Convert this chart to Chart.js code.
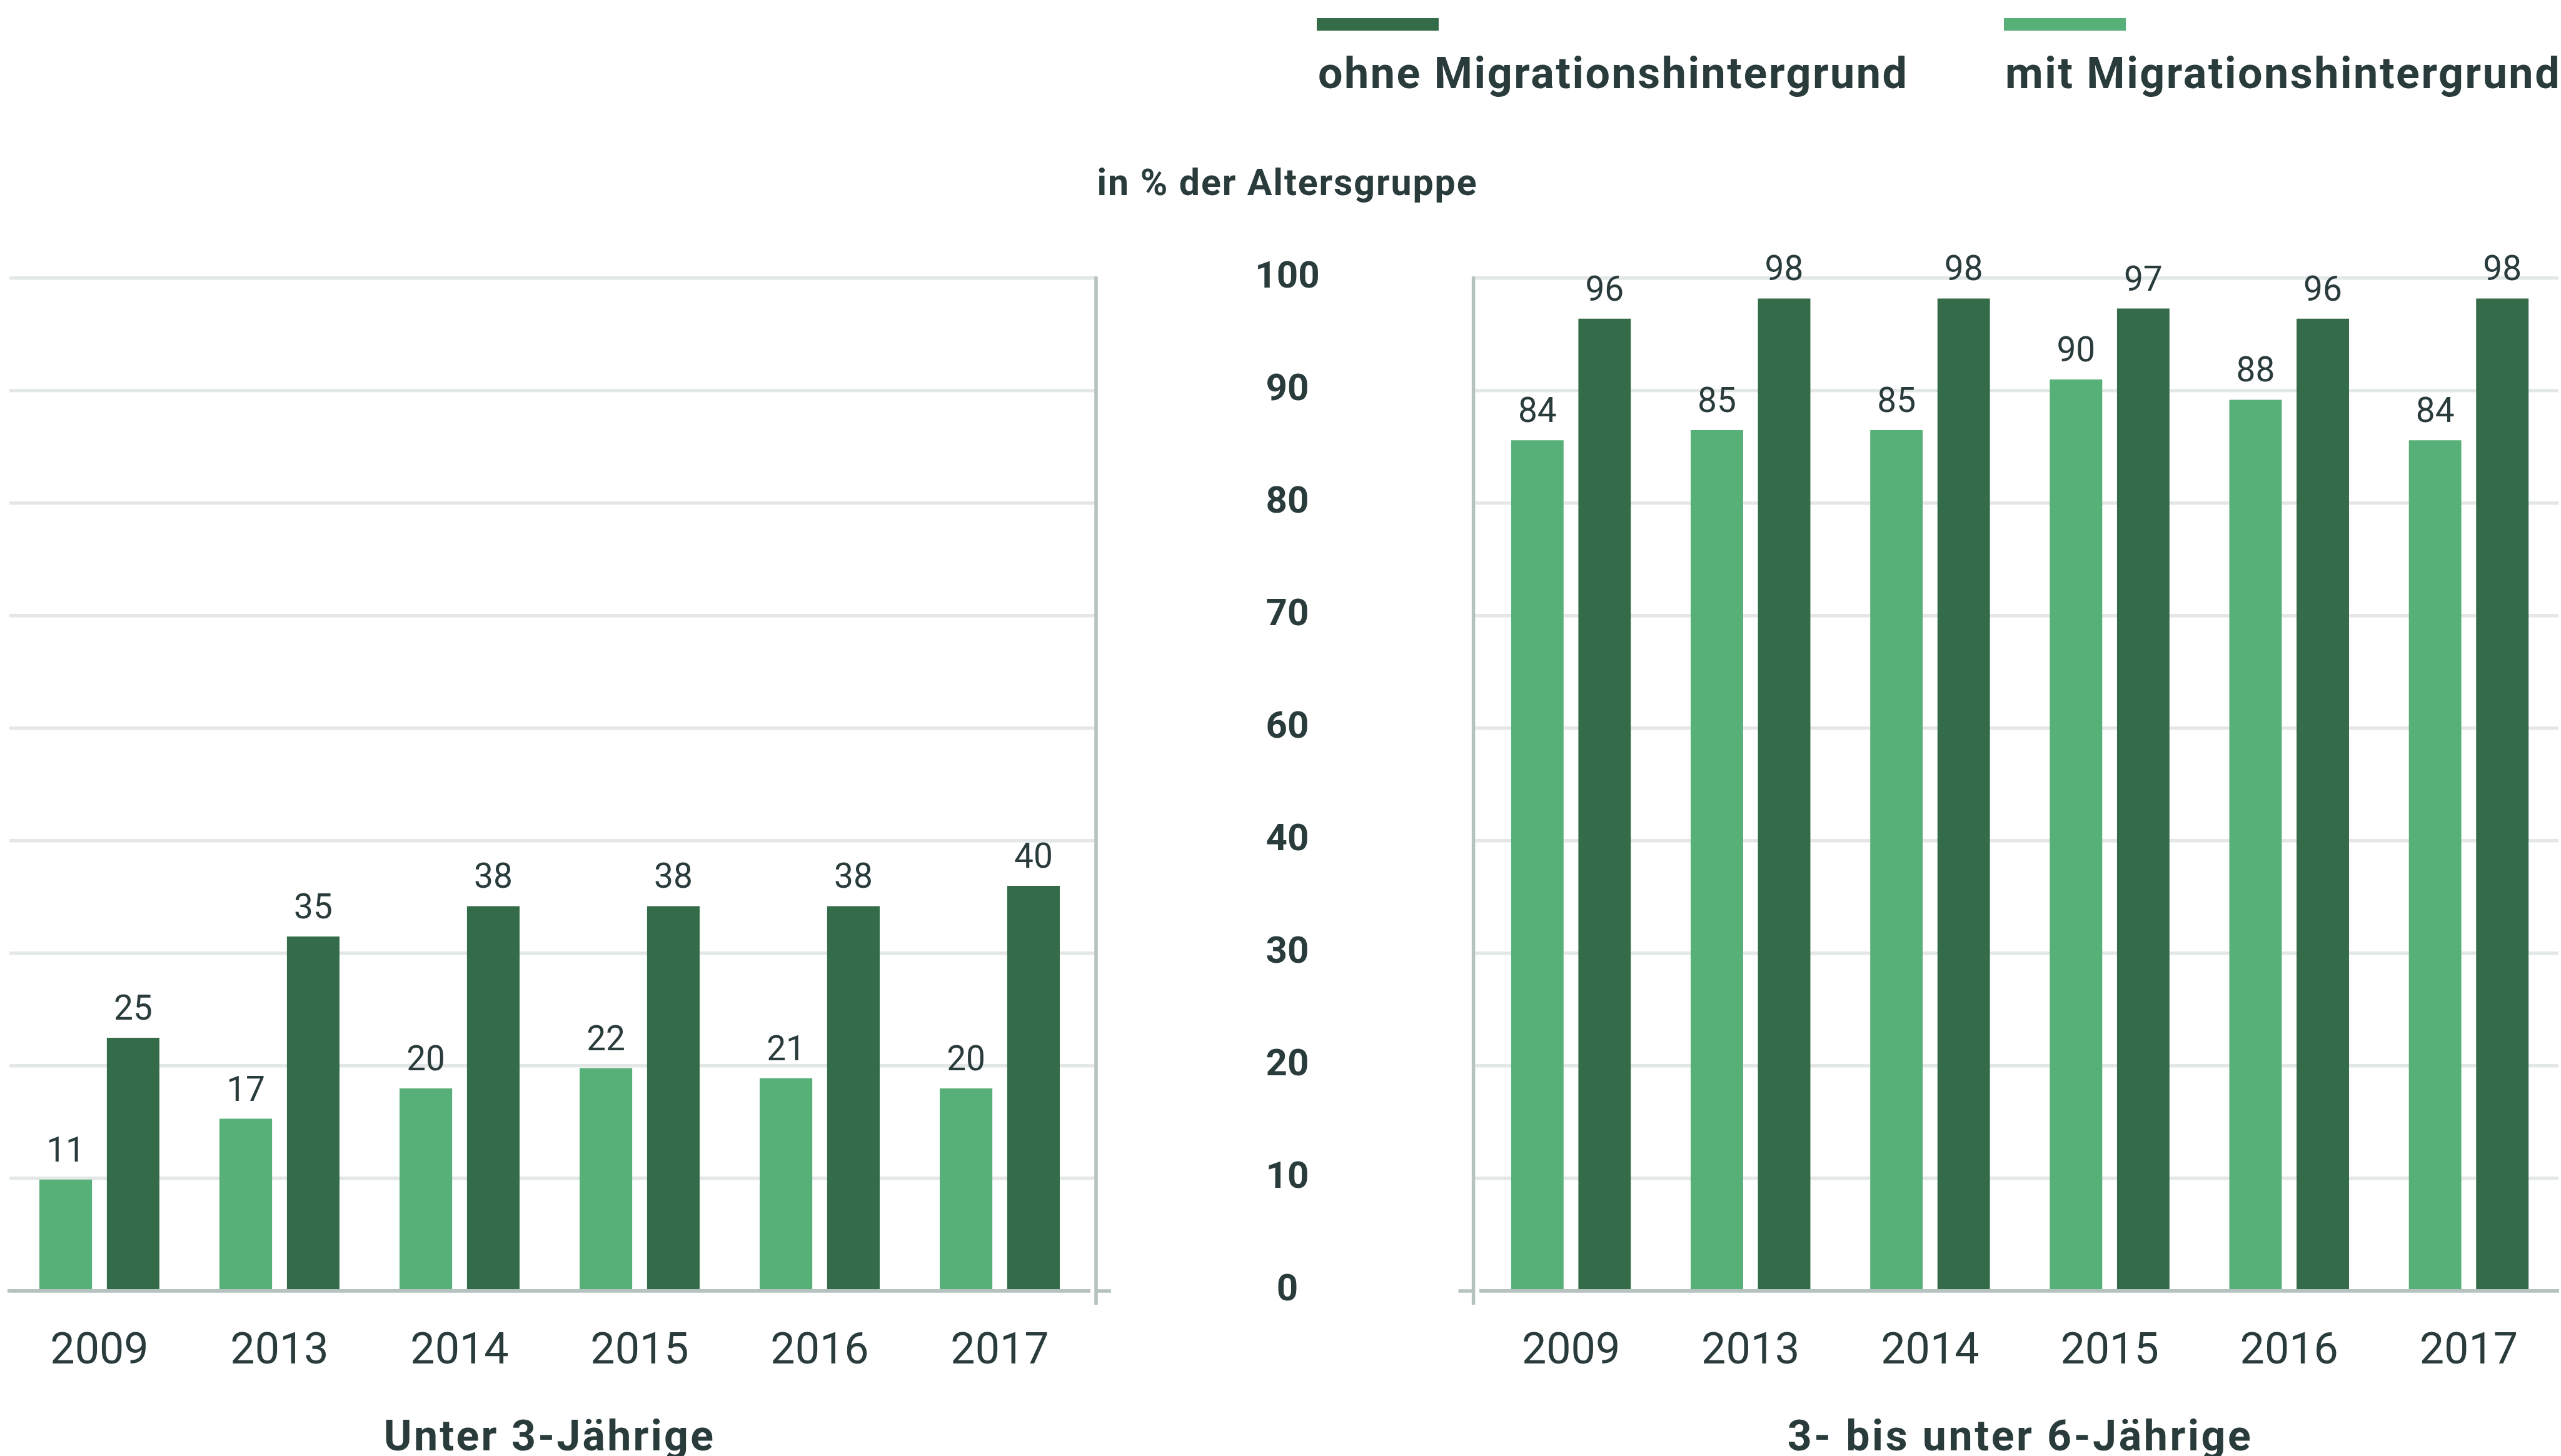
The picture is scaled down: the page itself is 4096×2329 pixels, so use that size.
<!DOCTYPE html>
<html lang="de">
<head>
<meta charset="utf-8">
<title>Betreuungsquoten nach Migrationshintergrund</title>
<script src="https://cdn.jsdelivr.net/npm/chart.js@4.4.1/dist/chart.umd.min.js"></script>
<style>
  html, body { margin: 0; padding: 0; background: #fff; }
  body { position: relative; width: 4096px; height: 2329px; overflow: hidden; font-family: Roboto, sans-serif; color: #293b3a; }
  canvas { position: absolute; top: 0; }
  .txt { position: absolute; white-space: nowrap; line-height: 1; font-weight: 700; }
  .swatch { position: absolute; top: 29px; width: 195px; height: 20px; }
</style>
</head>
<body>
<canvas id="chartLeft" width="1800" height="2329" style="left:0"></canvas>
<canvas id="chartRight" width="2196" height="2329" style="left:1900px"></canvas>
<div id="legend"></div>
<div class="txt" id="unitLabel"></div>
<div class="txt" id="titleLeft"></div>
<div class="txt" id="titleRight"></div>
<script>
// data
const years = ['2009', '2013', '2014', '2015', '2016', '2017'];
const seriesNames = ['mit Migrationshintergrund', 'ohne Migrationshintergrund'];
const seriesColors = ['#57b078', '#346b48'];
const under3With = [11, 17, 20, 22, 21, 20];
const under3Without = [25, 35, 38, 38, 38, 40];
const age3to6With = [84, 85, 85, 90, 88, 84];
const age3to6Without = [96, 98, 98, 97, 96, 98];
const yTickLabels = [0, 10, 20, 30, 40, 60, 70, 80, 90, 100];
const groupTitles = ['Unter 3-Jährige', '3- bis unter 6-Jährige'];
const unitText = 'in % der Altersgruppe';

const TEXT = '#293b3a';
const GRID = '#e3e8e7';
const AXIS = '#b5c2c0';
const LINE = 5.5;
const H = 2329;
const AREA_TOP = 445;
const AREA_BOTTOM = 2065;

// value labels above each bar
const valueLabels = {
    id: 'valueLabels',
    afterDatasetsDraw(chart) {
        const ctx = chart.ctx;
        ctx.save();
        ctx.font = '400 55px Roboto';
        ctx.fillStyle = TEXT;
        ctx.textAlign = 'center';
        ctx.textBaseline = 'alphabetic';
        chart.data.datasets.forEach((ds, i) => {
            chart.getDatasetMeta(i).data.forEach((bar, j) => {
                ctx.fillText(String(ds.data[j]), bar.x, bar.y - 29);
            });
        });
        ctx.restore();
    }
};

// vertical frame line beside the plot, with the little corner at the bottom
const axisFrame = {
    id: 'axisFrame',
    afterDraw(chart, args, opts) {
        const { ctx, chartArea } = chart;
        const dir = opts.side === 'right' ? 1 : -1;
        const x = (opts.side === 'right' ? chartArea.right : chartArea.left) + dir * opts.gap;
        ctx.save();
        ctx.strokeStyle = AXIS;
        ctx.lineWidth = LINE;
        ctx.beginPath();
        ctx.moveTo(x, chartArea.top - LINE / 2);
        ctx.lineTo(x, chartArea.bottom + 22);
        ctx.moveTo(x, chartArea.bottom);
        ctx.lineTo(x + dir * 24, chartArea.bottom);
        ctx.stroke();
        ctx.restore();
    }
};

function yTicks(scale) {
    scale.ticks = yTickLabels.map((_, i) => ({ value: i * 100 / (yTickLabels.length - 1) }));
}

function makeChart(canvasId, withData, withoutData, side) {
    const isLeftAxis = side === 'left';
    const measure = document.createElement('canvas').getContext('2d');
    measure.font = 'normal bold 60px Roboto';
    const widest = Math.max(...yTickLabels.map(t => measure.measureText(String(t)).width));
    const axisWidth = isLeftAxis ? 469 : 57;
    const tickLen = isLeftAxis ? 12 : 10;

    return new Chart(document.getElementById(canvasId), {
        type: 'bar',
        data: {
            labels: years,
            datasets: [
                { label: seriesNames[0], data: withData, backgroundColor: seriesColors[0] },
                { label: seriesNames[1], data: withoutData, backgroundColor: seriesColors[1] }
            ]
        },
        options: {
            responsive: false,
            animation: false,
            categoryPercentage: 0.749,
            barPercentage: 0.78,
            layout: {
                padding: { top: AREA_TOP, bottom: 0, left: isLeftAxis ? 0 : 15, right: isLeftAxis ? 4 : 0 }
            },
            plugins: {
                legend: { display: false },
                tooltip: { enabled: false },
                axisFrame: { side: isLeftAxis ? 'left' : 'right', gap: isLeftAxis ? 12.4 : 10 }
            },
            scales: {
                x: {
                    grid: { display: false },
                    border: { color: AXIS, width: LINE, z: 1 },
                    ticks: {
                        color: TEXT,
                        font: { family: 'Roboto', size: 70, weight: '400' },
                        padding: 48,
                        maxRotation: 0,
                        autoSkip: false
                    },
                    afterFit: scale => { scale.height = H - AREA_BOTTOM; }
                },
                y: {
                    position: side,
                    min: 0,
                    max: 100,
                    afterBuildTicks: yTicks,
                    border: { display: false },
                    grid: {
                        color: c => c.tick.value === 0 ? AXIS : GRID,
                        tickColor: c => c.tick.value === 0 ? 'rgba(0,0,0,0)' : GRID,
                        lineWidth: LINE,
                        tickLength: tickLen
                    },
                    ticks: {
                        display: isLeftAxis,
                        color: TEXT,
                        font: { family: 'Roboto', size: 60, weight: 'bold' },
                        crossAlign: 'center',
                        padding: axisWidth - tickLen - widest / 2 - 159,
                        callback: (value, index) => yTickLabels[index]
                    },
                    afterFit: scale => {
                        // the wide label padding must not shrink the plot area
                        scale.width = axisWidth;
                        scale.paddingTop = 0;
                        scale.paddingBottom = 0;
                    }
                }
            }
        },
        plugins: [valueLabels, axisFrame]
    });
}

makeChart('chartLeft', under3With, under3Without, 'right');
makeChart('chartRight', age3to6With, age3to6Without, 'left');

// html texts: stretch letter spacing to the widths of the original
function spaceTo(el, width) {
    el.style.letterSpacing = '0px';
    const natural = el.getBoundingClientRect().width;
    const ls = (width - natural) / (el.textContent.length - 1);
    el.style.letterSpacing = ls + 'px';
    return ls;
}

function place(el, text, size, baseline, centerX, width) {
    el.textContent = text;
    el.style.fontSize = size + 'px';
    el.style.top = (baseline - 0.842 * size) + 'px';
    spaceTo(el, width);
    el.style.left = (centerX - el.getBoundingClientRect().width / 2) + 'px';
}

place(document.getElementById('unitLabel'), unitText, 59, 312, 2059, 607);
place(document.getElementById('titleLeft'), groupTitles[0], 68, 2320, 879, 527);
place(document.getElementById('titleRight'), groupTitles[1], 68, 2320, 3231, 741);

const legend = document.getElementById('legend');
const legendLeft = [3205, 2106];
let legendSpacing = null;
[1, 0].forEach(i => {
    const sw = document.createElement('div');
    sw.className = 'swatch';
    sw.style.left = legendLeft[i] + 'px';
    sw.style.background = seriesColors[i];
    legend.appendChild(sw);
    const t = document.createElement('div');
    t.className = 'txt';
    t.textContent = seriesNames[i];
    t.style.fontSize = '70px';
    t.style.top = (141 - 0.842 * 70) + 'px';
    t.style.left = (legendLeft[i] + 2) + 'px';
    legend.appendChild(t);
    if (legendSpacing === null) {
        legendSpacing = spaceTo(t, 942);
    } else {
        t.style.letterSpacing = legendSpacing + 'px';
    }
});
</script>
</body>
</html>
